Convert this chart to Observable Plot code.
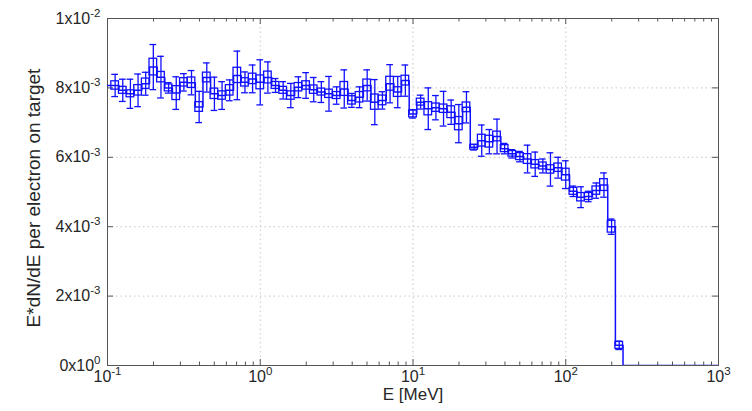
<!DOCTYPE html>
<html><head><meta charset="utf-8">
<script src="https://cdn.jsdelivr.net/npm/d3@7"></script>
<script src="https://cdn.jsdelivr.net/npm/@observablehq/plot@0.6"></script>
<style>
body{margin:0;background:#fff;}
svg{font-family:"Liberation Sans", Arial, Helvetica, sans-serif;}
</style>
</head><body><div id="chart"></div>
<script>
// Histogram: 20 log bins per decade starting at 0.1 MeV; values in units of 1e-3
const binsPerDecade = 20;
const firstEdge = 0.1;
const yUnit = 1e-3;
const values = [
  8.07, 7.93, 7.83, 7.93, 8.12, 8.60, 8.31, 8.00, 7.85, 8.16,
  8.15, 7.45, 8.30, 7.83, 7.78, 7.93, 8.36, 8.16, 8.26, 8.16,
  8.30, 8.07, 7.93, 7.78, 8.02, 8.07, 7.95, 7.88, 7.83, 7.78,
  7.97, 7.64, 7.73, 8.07, 7.59, 7.64, 8.12, 7.88, 8.21, 7.25,
  7.59, 7.40, 7.43, 7.40, 7.30, 6.97, 7.44, 6.29, 6.48, 6.45,
  6.60, 6.25, 6.10, 6.02, 5.95, 5.80, 5.75, 5.65, 5.70, 5.50,
  5.02, 4.85, 4.87, 5.04, 5.20, 4.00, 0.58
];
const errors = [
  0.32, 0.32, 0.42, 0.47, 0.33, 0.65, 0.60, 0.15, 0.47, 0.25,
  0.35, 0.45, 0.42, 0.48, 0.40, 0.30, 0.70, 0.30, 0.40, 0.65,
  0.45, 0.20, 0.25, 0.35, 0.30, 0.37, 0.35, 0.30, 0.50, 0.25,
  0.55, 0.20, 0.30, 0.45, 0.65, 0.25, 0.55, 0.45, 0.45, 0.12,
  0.20, 0.60, 0.35, 0.50, 0.35, 0.55, 0.45, 0.08, 0.45, 0.35,
  0.50, 0.15, 0.12, 0.15, 0.40, 0.35, 0.20, 0.48, 0.30, 0.40,
  0.15, 0.30, 0.15, 0.22, 0.35, 0.22, 0.12
];
const boxHalf = [
  0.12, 0.10, 0.10, 0.15, 0.15, 0.24, 0.15, 0.10, 0.20, 0.12,
  0.15, 0.14, 0.14, 0.15, 0.12, 0.15, 0.22, 0.12, 0.15, 0.20,
  0.17, 0.10, 0.10, 0.12, 0.12, 0.12, 0.12, 0.10, 0.12, 0.10,
  0.20, 0.12, 0.15, 0.17, 0.22, 0.14, 0.20, 0.14, 0.14, 0.10,
  0.10, 0.19, 0.12, 0.12, 0.17, 0.19, 0.14, 0.07, 0.17, 0.17,
  0.14, 0.10, 0.08, 0.10, 0.14, 0.12, 0.10, 0.12, 0.12, 0.17,
  0.10, 0.12, 0.10, 0.12, 0.17, 0.17, 0.10
];
const xTicks = [0.1, 1, 10, 100, 1000];
const xTickLabels = ["10^-1", "10^0", "10^1", "10^2", "10^3"];
const yTicks = [0, 0.002, 0.004, 0.006, 0.008, 0.01];
const yTickLabels = ["0x10^0", "2x10^-3", "4x10^-3", "6x10^-3", "8x10^-3", "1x10^-2"];
const xLabel = "E [MeV]";
const yLabel = "E*dN/dE per electron on target";

const W = 752, H = 411, mL = 107, mR = 34, mT = 18, mB = 46;
const innerW = W - mL - mR, innerH = H - mT - mB;
const blue = "#1010ff";
const axisColor = "#555";
const textColor = "#262626";

const stepF = Math.pow(10, 1 / binsPerDecade);
const bins = values.map((v, i) => {
  const c = firstEdge * Math.pow(10, (i + 1) / binsPerDecade);
  return {c, lo: c / Math.sqrt(stepF), hi: c * Math.sqrt(stepF),
          v: v * yUnit, e: errors[i] * yUnit, b: boxHalf[i] * yUnit};
});
const stepPts = [];
bins.forEach((d, i) => {
  stepPts.push({x: i === 0 ? firstEdge : d.lo, y: d.v});
  stepPts.push({x: d.hi, y: d.v});
});
stepPts.push({x: bins[bins.length - 1].hi, y: 0});
stepPts.push({x: xTicks[xTicks.length - 1], y: 0});

const capF = Math.pow(10, 0.022);
const caps = bins.flatMap(d => [
  {x1: d.c / capF, x2: d.c * capF, y: d.v + d.e},
  {x1: d.c / capF, x2: d.c * capF, y: d.v - d.e}
]);
const minorTicks = [];
for (let p = -1; p < 3; p++) for (let m = 2; m <= 9; m++) minorTicks.push(m * Math.pow(10, p));

const chart = Plot.plot({
  width: W, height: H,
  marginLeft: mL, marginRight: mR, marginTop: mT, marginBottom: mB,
  x: {type: "log", domain: [0.1, 1000], axis: null},
  y: {domain: [0, 0.01], axis: null},
  marks: [
    Plot.ruleX(xTicks.slice(1, -1), {x: d => d, stroke: "#c8c8c8", strokeDasharray: "1.5,3", strokeWidth: 1}),
    Plot.ruleY(yTicks.slice(1, -1), {y: d => d, stroke: "#c8c8c8", strokeDasharray: "1.5,3", strokeWidth: 1}),
    Plot.frame({stroke: axisColor, strokeWidth: 1}),
    Plot.tickX(xTicks, {x: d => d, insetTop: innerH - 6, stroke: axisColor}),
    Plot.tickX(xTicks, {x: d => d, insetBottom: innerH - 6, stroke: axisColor}),
    Plot.tickX(minorTicks, {x: d => d, insetTop: innerH - 3.5, stroke: axisColor}),
    Plot.tickX(minorTicks, {x: d => d, insetBottom: innerH - 3.5, stroke: axisColor}),
    Plot.tickY(yTicks, {y: d => d, insetRight: innerW - 6, stroke: axisColor}),
    Plot.tickY(yTicks, {y: d => d, insetLeft: innerW - 6, stroke: axisColor}),
    Plot.rect(bins, {x1: "lo", x2: "hi", y1: d => d.v - d.b, y2: d => d.v + d.b, fill: "none", stroke: blue, strokeWidth: 1.3}),
    Plot.ruleX(bins, {x: "c", y1: d => d.v - d.e, y2: d => d.v + d.e, stroke: blue, strokeWidth: 1.3}),
    Plot.ruleY(caps, {y: "y", x1: "x1", x2: "x2", stroke: blue, strokeWidth: 1.3}),
    Plot.line(stepPts, {x: "x", y: "y", stroke: blue, strokeWidth: 1.5, clip: true}),
    Plot.text(xTicks, {x: d => d, text: (d, i) => xTickLabels[i], frameAnchor: "bottom", dy: 16, fontSize: 16, fill: textColor}),
    Plot.text(yTicks, {y: d => d, text: (d, i) => yTickLabels[i], frameAnchor: "left", dx: -7, textAnchor: "end", fontSize: 16, fill: textColor}),
    Plot.text([xLabel], {text: d => d, frameAnchor: "bottom", textAnchor: "middle", dy: 34, fontSize: 17, fill: textColor}),
    Plot.text([yLabel], {text: d => d, frameAnchor: "left", textAnchor: "middle", dx: -74, dy: 6, rotate: -90, fontSize: 19, fill: textColor})
  ]
});

d3.select(chart).selectAll("text").each(function () {
  const t = this.textContent;
  const k = t.indexOf("^");
  if (k < 0) return;
  const sel = d3.select(this);
  sel.text(null);
  sel.append("tspan").text(t.slice(0, k));
  sel.append("tspan").attr("dy", "-0.6em").attr("font-size", "0.72em").text(t.slice(k + 1));
});

document.getElementById("chart").appendChild(chart);
</script>
</body></html>
